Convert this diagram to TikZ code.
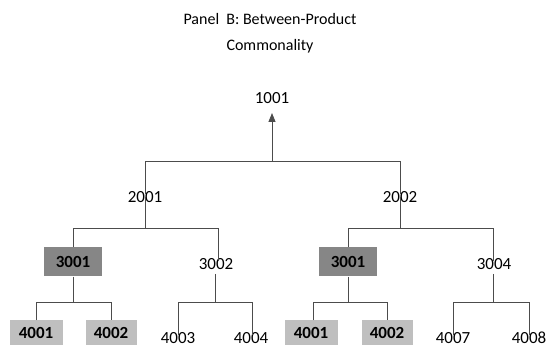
\documentclass[tikz,border=0pt]{standalone}
\usepackage{fontspec}
\setmainfont{Carlito}
\usetikzlibrary{arrows.meta}
\begin{document}
\begin{tikzpicture}[x=1pt, y=-1pt,
    lbl/.style={inner sep=0pt, font=\fontsize{17}{20}\selectfont},
    darkbox/.style={lbl, fill=gray!95, minimum width=58pt, minimum height=29pt, font=\fontsize{17}{20}\selectfont\bfseries},
    lightbox/.style={lbl, fill=gray!50, minimum width=53pt, minimum height=25pt, font=\fontsize{17}{20}\selectfont\bfseries},
    tree/.style={draw=black!70, line width=0.9pt}]
    \useasboundingbox (0,0) rectangle (547,347);
    % title
    \node[font=\fontsize{16}{26}\selectfont, align=center] (title) at (270,33) {Panel\ \ B: Between-Product\\Commonality};
    % top
    \node[lbl] (n1001) at (272,98) {1001};
    \node[lbl] (n2001) at (145,197) {2001};
    \node[lbl] (n2002) at (400,197) {2002};
    \coordinate (top) at (272,161);
    \coordinate (tip) at (272,113);
    \draw[tree, -{Triangle[length=9pt, width=7pt]}] (top) -- (tip);
    \draw[tree] ([yshift=-3pt]n2001.north) -- (145,161) -- (400,161) -- ([yshift=-3pt]n2002.north);
    % left branch
    \node[darkbox] (a3001) at (73,262) {3001};
    \node[lbl] (a3002) at (216,264) {3002};
    \draw[tree] (n2001.center) -- (145,228);
    \draw[tree] (a3001.north) -- (73,228) -- (218,228) -- ([yshift=-3pt]a3002.north -| 218,0);
    \node[lightbox] (a4001) at (36,333) {4001};
    \node[lightbox, minimum width=51pt] (a4002) at (111,333) {4002};
    \node[lbl] (a4003) at (178,338) {4003};
    \node[lbl] (a4004) at (251,338) {4004};
    \draw[tree] (a3001.south) -- (73,302);
    \draw[tree] (a4001.north) -- (36,302) -- (111,302) -- (a4002.north);
    \draw[tree] (a3002.center) ++(-1,10) -- (215,302);
    \draw[tree] ([yshift=-3pt]a4003.north) -- (178,302) -- (252,302) -- ([yshift=-3pt]a4004.north -| 252,0);
    % right branch
    \node[darkbox] (b3001) at (348,262) {3001};
    \node[lbl] (b3004) at (494,264) {3004};
    \draw[tree] (n2002.center) -- (400,228);
    \draw[tree] (b3001.north) -- (348,228) -- (493,228) -- ([yshift=-3pt]b3004.north -| 493,0);
    \node[lightbox] (b4001) at (311,333) {4001};
    \node[lightbox, minimum width=51pt] (b4002) at (387,333) {4002};
    \node[lbl] (b4007) at (453,338) {4007};
    \node[lbl] (b4008) at (529,338) {4008};
    \draw[tree] (b3001.south) -- (348,302);
    \draw[tree] (b4001.north -| 313,0) -- (313,302) -- (387,302) -- (b4002.north);
    \draw[tree] (b3004.center) ++(-1,10) -- (493,302);
    \draw[tree] ([yshift=-3pt]b4007.north) -- (453,302) -- (529,302) -- ([yshift=-3pt]b4008.north);
\end{tikzpicture}
\end{document}
